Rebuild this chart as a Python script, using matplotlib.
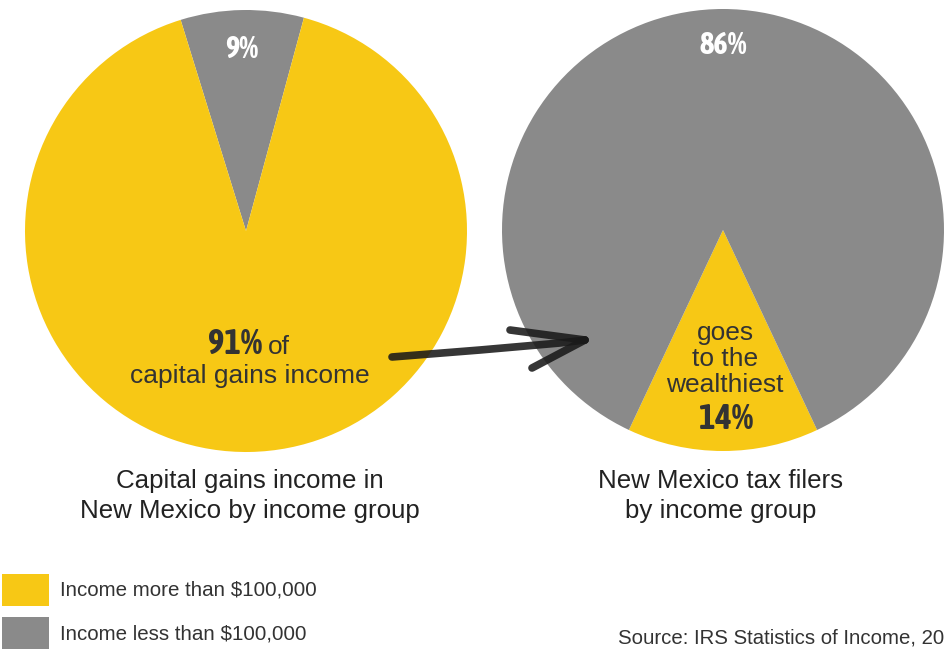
import os
import matplotlib
matplotlib.use("Agg")
import matplotlib.pyplot as plt
from matplotlib import font_manager
from matplotlib.font_manager import FontProperties

# Data
left_labels = ["Income less than $100,000", "Income more than $100,000"]
left_values = [9, 91]
right_labels = ["Income more than $100,000", "Income less than $100,000"]
right_values = [14, 86]
legend_labels = ["Income more than $100,000", "Income less than $100,000"]

YELLOW = "#F7C815"
GRAY = "#8A8A8A"
TXT = "#333333"


def pick_condensed_bold():
    cands = []
    for f in font_manager.fontManager.ttflist:
        base = os.path.basename(f.fname).lower()
        is_cond = (str(f.stretch) in ("condensed", "semi-condensed", "extra-condensed",
                                      "ultra-condensed")) or "condensed" in base or "narrow" in base
        if not is_cond:
            continue
        w = f.weight if isinstance(f.weight, int) else {"bold": 700}.get(f.weight, 400)
        if "semicondensed" in base or "semi-condensed" in str(f.stretch):
            pri = 2
        elif "extracondensed" in base:
            pri = 1
        else:
            pri = 0
        italic = "italic" in base or f.style != "normal"
        cands.append((italic, pri, abs(w - 700), base, f.fname))
    if cands:
        cands.sort()
        return FontProperties(fname=cands[0][4])
    return FontProperties(family="DejaVu Sans", weight="bold")


COND = pick_condensed_bold()

W, H = 945, 649
fig = plt.figure(figsize=(W / 100, H / 100), dpi=100)
ax = fig.add_axes([0, 0, 1, 1])

def Y(y):
    return H - y

R = 221
ax.pie(left_values, colors=[GRAY, YELLOW], startangle=91 - left_values[0] * 3.6 / 2,
       counterclock=True, center=(246, Y(231)), radius=R,
       wedgeprops=dict(linewidth=0))
ax.pie(right_values, colors=[YELLOW, GRAY], startangle=270 - right_values[0] * 3.6 / 2,
       counterclock=True, center=(723, Y(230)), radius=R,
       wedgeprops=dict(linewidth=0))
ax.set_xlim(0, W)
ax.set_ylim(0, H)
ax.set_aspect("equal")
ax.axis("off")

sans = dict(family="Liberation Sans")

def cond_text(x, y, s, size, color, ha="center"):
    fp = COND.copy()
    fp.set_size(size)
    ax.text(x, y, s, color=color, fontproperties=fp, ha=ha, va="center")

cond_text(242, Y(50), f"{left_values[0]}%", 22, "white")
cond_text(723, Y(45), f"{right_values[1]}%", 22, "white")

# left inner label
cond_text(262, Y(344), f"{left_values[1]}%", 25, TXT, ha="right")
ax.text(268, Y(347), "of", color=TXT, fontsize=19, ha="left", va="center", **sans)
ax.text(250, Y(376), "capital gains income", color=TXT, fontsize=19,
        ha="center", va="center", **sans)

# right inner label
for i, line in enumerate(["goes", "to the", "wealthiest"]):
    ax.text(725, Y(333 + 26 * i), line, color=TXT, fontsize=19,
            ha="center", va="center", **sans)
cond_text(726, Y(419), f"{right_values[0]}%", 25, TXT)

# captions
for i, line in enumerate(["Capital gains income in", "New Mexico by income group"]):
    ax.text(250, Y(481 + 30 * i), line, color="#222222", fontsize=18.6,
            ha="center", va="center", **sans)
for i, line in enumerate(["New Mexico tax filers", "by income group"]):
    ax.text(721, Y(481 + 30 * i), line, color="#222222", fontsize=18.6,
            ha="center", va="center", **sans)

# arrow (hand-drawn style)
stroke = dict(color="#1a1a1a", linewidth=5.5, solid_capstyle="round", alpha=0.88)
ax.plot([392, 480, 560, 585], [Y(357), Y(350), Y(343), Y(340)], **stroke)
ax.plot([510, 585], [Y(330), Y(340)], **stroke)
ax.plot([585, 532], [Y(340), Y(368)], **stroke)

# legend
ax.add_patch(plt.Rectangle((2, Y(606)), 47, 32, color=YELLOW, lw=0))
ax.add_patch(plt.Rectangle((2, Y(649)), 47, 32, color=GRAY, lw=0))
ax.text(60, Y(590), legend_labels[0], color=TXT, fontsize=14.8, va="center",
        ha="left", **sans)
ax.text(60, Y(634), legend_labels[1], color=TXT, fontsize=14.8, va="center",
        ha="left", **sans)

ax.text(618, Y(638), "Source: IRS Statistics of Income, 20", color=TXT,
        fontsize=14.7, va="center", ha="left", **sans)

fig.savefig("out.png", dpi=100, facecolor="white")
